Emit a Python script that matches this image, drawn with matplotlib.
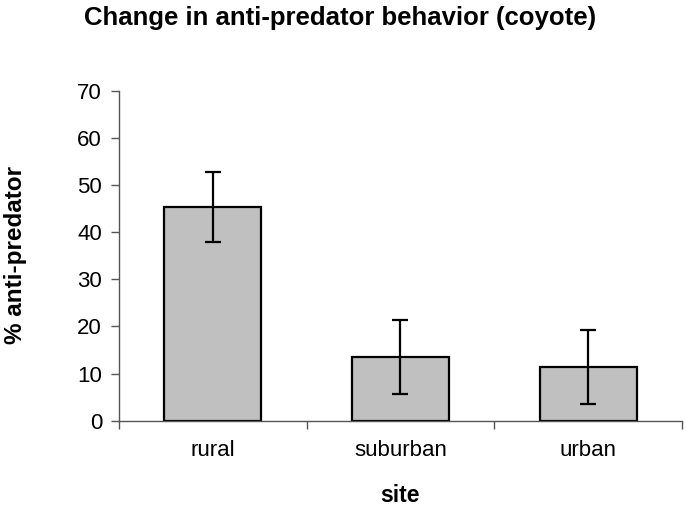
import matplotlib
matplotlib.use("Agg")
import matplotlib.pyplot as plt
import numpy as np

plt.rcParams['font.family'] = ['Liberation Sans', 'DejaVu Sans']

sites = ["rural", "suburban", "urban"]
values = [45.4, 13.5, 11.4]
errors = [7.4, 7.85, 7.85]
yticks = [0, 10, 20, 30, 40, 50, 60, 70]

fig = plt.figure(figsize=(6.86, 5.13), dpi=100)
ax = fig.add_axes([0.173, 0.180, 0.8216, 0.643])

x = np.arange(len(sites))
ax.bar(x, values, width=0.52, color="#c0c0c0", edgecolor="black", linewidth=1.6, zorder=2)
ax.errorbar(x, values, yerr=errors, fmt="none", ecolor="black", elinewidth=1.6,
            capsize=5.8, capthick=1.6, zorder=3)

ax.set_xlim(-0.5, len(sites) - 0.5)
ax.set_ylim(0, 70)
ax.set_yticks(yticks)
ax.set_yticklabels([str(t) for t in yticks], fontsize=16)
ax.set_xticks(x)
ax.set_xticklabels(sites, fontsize=16)
ax.tick_params(axis="x", length=0, pad=14)
ax.set_xticks(np.arange(len(sites) + 1) - 0.5, minor=True)
ax.tick_params(axis="x", which="minor", length=6, width=1, color="#555555", direction="out")
ax.tick_params(axis="y", length=6, width=1, color="#555555", direction="out", pad=6)

for s in ["top", "right"]:
    ax.spines[s].set_visible(False)
for s in ["left", "bottom"]:
    ax.spines[s].set_color("#555555")
    ax.spines[s].set_linewidth(1)

fig.text(400 / 686, 1 - 496 / 513, "site", ha="center", va="center", fontsize=16.5, fontweight="bold")
fig.text(16 / 686, 1 - 255 / 513, "% anti-predator", ha="center", va="center", rotation=90,
         fontsize=17.5, fontweight="bold")
fig.text(340 / 686, 1 - 18 / 513, "Change in anti-predator behavior (coyote)", ha="center", va="center",
         fontsize=18.5, fontweight="bold")

fig.savefig("out.png", dpi=100)
